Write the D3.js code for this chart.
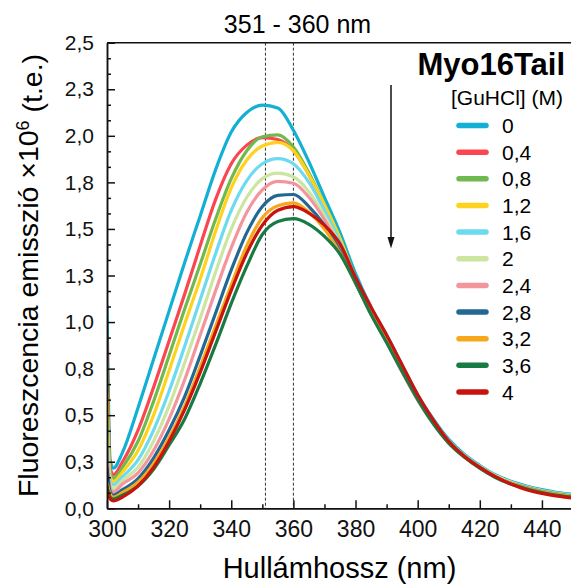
<!DOCTYPE html>
<html>
<head>
<meta charset="utf-8">
<script src="https://cdn.jsdelivr.net/npm/d3@7"></script>
<style>
  body { margin: 0; background: #fff; }
  svg { font-family: "Liberation Sans", Arial, sans-serif; }
  .axis path, .axis line { stroke: #111; stroke-width: 1.5px; }
  .axis text { fill: #111; }
</style>
</head>
<body>
<svg id="chart" width="571" height="584"></svg>
<script>
var wavelengths = [300, 301, 302, 305, 310, 315, 320, 325, 330, 335, 340, 345, 350, 355, 360, 365, 370, 375, 380,
                   385, 390, 395, 400, 405, 410, 415, 420, 425, 430, 435, 440, 445, 450];

// emission x10^6 for each [GuHCl] (M)
var gu_0   = [1.09, 0.26, 0.215, 0.30, 0.54, 0.80, 1.06, 1.32, 1.57, 1.82, 2.02, 2.125, 2.165, 2.15, 2.03, 1.86, 1.67, 1.48, 1.26,
              1.08, 0.93, 0.77, 0.61, 0.48, 0.37, 0.29, 0.23, 0.18, 0.145, 0.12, 0.10, 0.085, 0.075];
var gu_0_4 = [0.92, 0.22, 0.18, 0.25, 0.42, 0.65, 0.90, 1.15, 1.41, 1.66, 1.85, 1.95, 1.99, 1.98, 1.92, 1.79, 1.62, 1.44, 1.22,
              1.05, 0.90, 0.74, 0.59, 0.46, 0.355, 0.28, 0.22, 0.17, 0.135, 0.11, 0.09, 0.075, 0.065];
var gu_0_8 = [0.78, 0.20, 0.16, 0.22, 0.36, 0.575, 0.82, 1.07, 1.31, 1.555, 1.77, 1.92, 1.995, 2.005, 1.94, 1.80, 1.63, 1.45, 1.23,
              1.06, 0.91, 0.75, 0.60, 0.47, 0.36, 0.28, 0.22, 0.17, 0.135, 0.11, 0.09, 0.075, 0.065];
var gu_1_2 = [0.62, 0.17, 0.143, 0.195, 0.31, 0.50, 0.74, 0.99, 1.23, 1.49, 1.72, 1.87, 1.945, 1.965, 1.92, 1.79, 1.63, 1.45, 1.235,
              1.065, 0.915, 0.755, 0.60, 0.47, 0.36, 0.285, 0.225, 0.175, 0.14, 0.115, 0.095, 0.08, 0.07];
var gu_1_6 = [0.45, 0.15, 0.125, 0.17, 0.26, 0.42, 0.63, 0.87, 1.12, 1.37, 1.60, 1.76, 1.85, 1.878, 1.85, 1.75, 1.60, 1.43, 1.23,
              1.065, 0.915, 0.755, 0.60, 0.47, 0.36, 0.285, 0.225, 0.175, 0.14, 0.115, 0.095, 0.08, 0.07];
var gu_2   = [0.38, 0.13, 0.107, 0.15, 0.22, 0.36, 0.55, 0.78, 1.02, 1.27, 1.50, 1.67, 1.77, 1.80, 1.78, 1.70, 1.57, 1.41, 1.225,
              1.06, 0.91, 0.75, 0.60, 0.47, 0.36, 0.28, 0.22, 0.175, 0.14, 0.11, 0.09, 0.075, 0.065];
var gu_2_4 = [0.32, 0.11, 0.089, 0.13, 0.19, 0.31, 0.48, 0.69, 0.93, 1.17, 1.40, 1.59, 1.71, 1.755, 1.745, 1.67, 1.55, 1.40, 1.215,
              1.04, 0.89, 0.73, 0.58, 0.455, 0.35, 0.275, 0.215, 0.17, 0.135, 0.11, 0.09, 0.075, 0.065];
var gu_2_8 = [0.22, 0.09, 0.071, 0.10, 0.16, 0.27, 0.42, 0.60, 0.82, 1.05, 1.28, 1.48, 1.62, 1.68, 1.685, 1.62, 1.52, 1.38, 1.21,
              1.05, 0.90, 0.745, 0.595, 0.465, 0.355, 0.28, 0.22, 0.17, 0.135, 0.11, 0.09, 0.075, 0.065];
var gu_3_2 = [0.14, 0.075, 0.059, 0.085, 0.14, 0.24, 0.38, 0.55, 0.76, 0.98, 1.20, 1.41, 1.56, 1.625, 1.64, 1.59, 1.50, 1.37, 1.21,
              1.05, 0.90, 0.745, 0.595, 0.465, 0.355, 0.28, 0.22, 0.17, 0.135, 0.11, 0.09, 0.075, 0.065];
var gu_3_6 = [0.12, 0.06, 0.05, 0.07, 0.12, 0.21, 0.34, 0.48, 0.67, 0.88, 1.10, 1.30, 1.47, 1.54, 1.555, 1.525, 1.46, 1.365, 1.21,
              1.04, 0.89, 0.735, 0.585, 0.455, 0.35, 0.275, 0.215, 0.165, 0.13, 0.105, 0.085, 0.07, 0.06];
var gu_4   = [0.10, 0.05, 0.04, 0.06, 0.12, 0.22, 0.36, 0.53, 0.73, 0.95, 1.17, 1.37, 1.52, 1.60, 1.62, 1.585, 1.52, 1.42, 1.24,
              1.08, 0.93, 0.77, 0.61, 0.475, 0.36, 0.28, 0.22, 0.17, 0.13, 0.10, 0.08, 0.065, 0.055];

var concentrations = ['0', '0,4', '0,8', '1,2', '1,6', '2', '2,4', '2,8', '3,2', '3,6', '4'];
var series = [gu_0, gu_0_4, gu_0_8, gu_1_2, gu_1_6, gu_2, gu_2_4, gu_2_8, gu_3_2, gu_3_6, gu_4];

var color_table = ['#12b0d4', '#fb4650', '#70b94e', '#ffd21e', '#6ddbef', '#cce5a0',
                   '#f4959d', '#236893', '#f5a81b', '#187a44', '#c8140d'];

var xTicks = [300, 320, 340, 360, 380, 400, 420, 440];
var yTicks = [0, 0.25, 0.5, 0.75, 1, 1.25, 1.5, 1.75, 2, 2.25, 2.5];
var yTickLabels = ['0,0', '0,3', '0,5', '0,8', '1,0', '1,3', '1,5', '1,8', '2,0', '2,3', '2,5'];
var markedRange = [351, 360];

var plotLeft = 107, plotTop = 42.7, plotRight = 573, plotBottom = 508.3;

var svg = d3.select('#chart'),
    x = d3.scaleLinear().domain([300, 450]).range([plotLeft, plotRight]),
    y = d3.scaleLinear().domain([0, 2.5]).range([plotBottom, plotTop]);

svg.append('defs').append('clipPath').attr('id', 'plotclip')
  .append('rect').attr('x', plotLeft).attr('y', plotTop)
  .attr('width', plotRight - plotLeft).attr('height', plotBottom - plotTop);

// dashed markers for the emission maximum range
svg.append('g').selectAll('line').data(markedRange)
  .enter().append('line')
  .attr('x1', function(d) { return x(d); })
  .attr('x2', function(d) { return x(d); })
  .attr('y1', plotTop)
  .attr('y2', plotBottom)
  .style('stroke', '#333')
  .style('stroke-width', '1px')
  .style('stroke-dasharray', '3,2');

var line = d3.line()
  .x(function(d, i) { return x(wavelengths[i]); })
  .y(function(d) { return y(d); })
  .curve(d3.curveMonotoneX);

svg.append('g').attr('clip-path', 'url(#plotclip)')
  .selectAll('path').data(series)
  .enter().append('path')
  .attr('d', line)
  .style('fill', 'none')
  .style('stroke', function(d, i) { return color_table[i]; })
  .style('stroke-width', '3.2px')
  .style('stroke-linejoin', 'round');

// axes, ticks pointing inward
svg.append('g').attr('class', 'axis')
  .attr('transform', 'translate(0,' + plotBottom + ')')
  .call(d3.axisBottom(x).tickValues(d3.range(310, 450, 20)).tickSizeInner(-4).tickSizeOuter(0).tickFormat(''));
svg.append('g').attr('class', 'axis')
  .attr('transform', 'translate(0,' + plotBottom + ')')
  .call(d3.axisBottom(x).tickValues(xTicks).tickSizeInner(-8).tickSizeOuter(0).tickPadding(12))
  .selectAll('text').style('font-size', '23px');

svg.append('g').attr('class', 'axis')
  .attr('transform', 'translate(' + plotLeft + ',0)')
  .call(d3.axisLeft(y).tickValues(d3.range(0, 31).map(function(k) { return k * 0.25 / 3; }).filter(function(v, k) { return k % 3; }))
    .tickSizeInner(-4).tickSizeOuter(0).tickFormat(''));
svg.append('g').attr('class', 'axis')
  .attr('transform', 'translate(' + plotLeft + ',0)')
  .call(d3.axisLeft(y).tickValues(yTicks).tickSizeInner(-8).tickSizeOuter(0).tickPadding(13)
    .tickFormat(function(d, i) { return yTickLabels[i]; }))
  .selectAll('text').style('font-size', '21px');

svg.append('line')
  .attr('x1', plotLeft).attr('x2', plotRight).attr('y1', plotTop).attr('y2', plotTop)
  .style('stroke', '#111').style('stroke-width', '1.5px');

// titles
svg.append('text')
  .attr('x', 297.5).attr('y', 32.5)
  .attr('text-anchor', 'middle')
  .style('font-size', '25px')
  .text(markedRange[0] + ' - ' + markedRange[1] + ' nm');

svg.append('text')
  .attr('x', (plotLeft + 572) / 2).attr('y', 578)
  .attr('text-anchor', 'middle')
  .style('font-size', '29px')
  .text('Hullámhossz (nm)');

var ytitle = svg.append('text')
  .attr('transform', 'translate(37.5,' + ((plotTop + plotBottom) / 2) + ') rotate(-90)')
  .attr('text-anchor', 'middle')
  .style('font-size', '28.5px');
ytitle.append('tspan').text('Fluoreszcencia emisszió ×10');
ytitle.append('tspan').attr('dy', '-0.45em').style('font-size', '18px').text('6');
ytitle.append('tspan').attr('dy', '0.45em').text(' (t.e.)');

// legend
svg.append('text')
  .attr('x', 565).attr('y', 75)
  .attr('text-anchor', 'end')
  .style('font-size', '31px')
  .style('font-weight', 'bold')
  .text('Myo16Tail');
svg.append('text')
  .attr('x', 563).attr('y', 105)
  .attr('text-anchor', 'end')
  .style('font-size', '21px')
  .text('[GuHCl] (M)');

var legend = svg.append('g').selectAll('.item').data(concentrations)
  .enter().append('g')
  .attr('class', 'item')
  .attr('transform', function(d, i) { return 'translate(0,' + (125.5 + i * 26.65) + ')'; });
legend.append('line')
  .attr('x1', 459).attr('x2', 486)
  .style('stroke', function(d, i) { return color_table[i]; })
  .style('stroke-width', '5.5px')
  .style('stroke-linecap', 'round');
legend.append('text')
  .attr('x', 502).attr('dy', '0.36em')
  .style('font-size', '21px')
  .text(function(d) { return d; });

// arrow: decreasing intensity with denaturant
svg.append('line')
  .attr('x1', 391).attr('x2', 391).attr('y1', 85).attr('y2', 240)
  .style('stroke', '#111').style('stroke-width', '1.5px');
svg.append('path')
  .attr('d', 'M387.5,237 L394.5,237 L391,248.5 Z')
  .style('fill', '#111');
</script>
</body>
</html>
